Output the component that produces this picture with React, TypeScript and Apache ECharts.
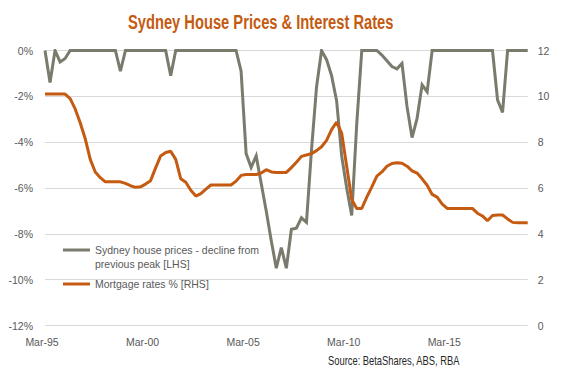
import React, { useEffect, useRef } from "react";
import * as echarts from "echarts";

const QUARTER_NAMES = ["Mar", "Jun", "Sep", "Dec"];
const START_YEAR = 1995;
const N_QUARTERS = 97;
const categories: string[] = [];
for (let i = 0; i < N_QUARTERS; i++) {
  const y = (START_YEAR + Math.floor(i / 4)) % 100;
  categories.push(QUARTER_NAMES[i % 4] + "-" + String(y).padStart(2, "0"));
}

// Sydney house prices - decline from previous peak (%), quarterly from Mar-95
const housePriceDecline = [
  0, -1.4, 0, -0.5, -0.35,
  0, 0, 0, 0, 0, 0, 0, 0, 0, 0,
  -0.9,
  0, 0, 0, 0, 0, 0, 0, 0, 0,
  -1.1,
  0, 0, 0, 0, 0, 0, 0, 0, 0, 0, 0, 0, 0,
  -0.9, -4.5, -5.1, -4.6, -5.8, -7.0, -8.3, -9.5, -8.6, -9.5, -7.8, -7.75,
  -7.3, -7.5, -4.35, -1.6, 0, -0.4, -1.1, -2.2, -4.6, -6.0, -7.2, -3.2,
  0, 0, 0, 0,
  -0.2, -0.45, -0.7, -0.8, -0.56, -2.45, -3.8, -2.96, -1.5, -1.8,
  0, 0, 0, 0, 0, 0, 0, 0, 0, 0, 0, 0, 0,
  -2.15, -2.7,
  0, 0, 0, 0, 0,
];

// Mortgage rates (%), quarterly from Mar-95
const mortgageRate = [
  10.1, 10.1, 10.1, 10.1, 10.1, 9.9, 9.45, 8.85, 8.15, 7.25,
  6.7, 6.45, 6.27, 6.27, 6.27, 6.27, 6.2, 6.1, 6.03, 6.05,
  6.17, 6.32, 6.88, 7.4, 7.55, 7.6, 7.25, 6.4, 6.25, 5.9,
  5.65, 5.75, 5.95, 6.13, 6.13, 6.13, 6.13, 6.13, 6.3, 6.55,
  6.59, 6.59, 6.59, 6.65, 6.8, 6.7, 6.68, 6.68, 6.68, 6.89,
  7.12, 7.38, 7.44, 7.5, 7.63, 7.8, 8.08, 8.55, 8.88, 8.4,
  6.95, 5.5, 5.11, 5.11, 5.6, 6.05, 6.52, 6.7, 6.95, 7.07,
  7.1, 7.08, 6.95, 6.75, 6.65, 6.4, 6.12, 5.72, 5.6, 5.3,
  5.11, 5.11, 5.11, 5.11, 5.11, 5.11, 4.9, 4.78, 4.57, 4.8,
  4.82, 4.82, 4.65, 4.5, 4.48, 4.48, 4.48,
];

const TITLE_TEXT = "Sydney House Prices & Interest Rates";
const SOURCE_TEXT = "Source: BetaShares, ABS, RBA";
const SERIES_HOUSE = "Sydney house prices - decline from previous peak [LHS]";
const SERIES_RATE = "Mortgage rates % [RHS]";
// leading empty line keeps the icon level with the first text line
const LEGEND_HOUSE_TEXT = "\nSydney house prices - decline from\nprevious peak [LHS]";

const FONT = "'Liberation Sans', Arial, sans-serif";
const GRAY = "#7a7b6c";
const ORANGE = "#c55a11";
const TEXT = "#595959";

export default function App() {
  const ref = useRef<HTMLDivElement>(null);
  useEffect(() => {
    if (!ref.current) return;
    const chart = echarts.init(ref.current, null, { renderer: "svg" });
    chart.setOption({
      animation: false,
      backgroundColor: "#ffffff",
      graphic: [
        {
          type: "text",
          x: 128,
          y: 12,
          scaleX: 0.735,
          style: {
            text: TITLE_TEXT,
            fill: ORANGE,
            fontSize: 20,
            fontWeight: "bold",
            fontFamily: FONT,
            align: "left",
            verticalAlign: "top",
          },
        },
        {
          type: "text",
          x: 328,
          y: 355,
          scaleX: 0.78,
          style: {
            text: SOURCE_TEXT,
            fill: "#262626",
            fontSize: 12,
            fontFamily: FONT,
            align: "left",
            verticalAlign: "top",
          },
        },
      ],
      legend: [
        {
          data: [SERIES_HOUSE],
          formatter: () => LEGEND_HOUSE_TEXT,
          left: 63,
          top: 229,
          padding: 0,
          itemWidth: 27,
          itemHeight: 3,
          itemGap: 4,
          icon: "rect",
          textStyle: { color: TEXT, fontSize: 10.5, fontFamily: FONT, lineHeight: 14 },
        },
        {
          data: [SERIES_RATE],
          left: 63,
          top: 277,
          padding: 0,
          itemWidth: 27,
          itemHeight: 3,
          itemGap: 4,
          icon: "rect",
          textStyle: { color: TEXT, fontSize: 10.5, fontFamily: FONT, lineHeight: 14 },
        },
      ],
      grid: { left: 45, right: 40.3, top: 50.5, bottom: 53.5, containLabel: false },
      xAxis: {
        type: "category",
        data: categories,
        boundaryGap: false,
        axisLine: { show: false },
        axisTick: { show: false },
        axisLabel: {
          interval: 19,
          color: TEXT,
          fontSize: 10.5,
          fontFamily: FONT,
          margin: 11,
          padding: [0, 6, 0, 0],
        },
      },
      yAxis: [
        {
          type: "value",
          min: -12,
          max: 0,
          interval: 2,
          position: "left",
          axisLine: { show: false },
          axisTick: { show: false },
          axisLabel: { formatter: "{value}%", color: TEXT, fontSize: 10.5, fontFamily: FONT, margin: 12 },
          splitLine: { show: true, lineStyle: { color: "#d9d9d9", width: 1 } },
        },
        {
          type: "value",
          min: 0,
          max: 12,
          interval: 2,
          position: "right",
          axisLine: { show: false },
          axisTick: { show: false },
          axisLabel: { color: TEXT, fontSize: 10.5, fontFamily: FONT, margin: 10 },
          splitLine: { show: false },
        },
      ],
      series: [
        {
          name: SERIES_HOUSE,
          type: "line",
          yAxisIndex: 0,
          data: housePriceDecline,
          symbol: "none",
          lineStyle: { color: GRAY, width: 3, join: "miter" },
          itemStyle: { color: GRAY },
        },
        {
          name: SERIES_RATE,
          type: "line",
          yAxisIndex: 1,
          data: mortgageRate,
          symbol: "none",
          lineStyle: { color: ORANGE, width: 3 },
          itemStyle: { color: ORANGE },
        },
      ],
    });
    return () => chart.dispose();
  }, []);
  return (
    <div
      ref={ref}
      style={{ position: "fixed", left: 0, top: 0, width: 568, height: 379, background: "#fff" }}
    />
  );
}
